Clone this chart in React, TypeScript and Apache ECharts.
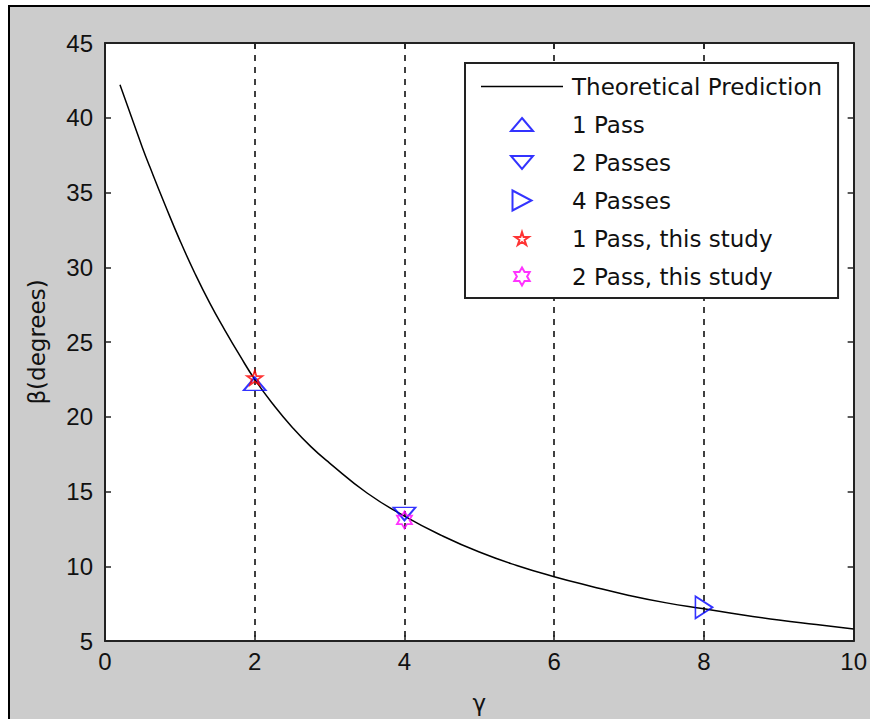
import React, { useEffect, useRef } from "react";
import * as echarts from "echarts";

const gammaValues = [0.2, 0.3, 0.4, 0.5, 0.6, 0.8, 1.0, 1.2, 1.4, 1.6, 1.8, 2.0, 2.25, 2.5, 2.75, 3.0, 3.5, 4.0, 4.5, 5.0, 5.5, 6.0, 6.5, 7.0, 7.5, 8.0, 8.5, 9.0, 9.5, 10.0];
const betaValues = [42.2, 40.8, 39.4, 38.0, 36.7, 34.2, 31.8, 29.6, 27.6, 25.8, 24.1, 22.5, 20.8, 19.3, 18.0, 16.9, 14.9, 13.35, 12.05, 10.95, 10.05, 9.3, 8.65, 8.05, 7.55, 7.15, 6.75, 6.4, 6.1, 5.8];

const onePass = [[2, 22.2]];
const twoPasses = [[4, 13.5]];
const fourPasses = [[8, 7.25]];
const onePassStudy = [[2, 22.6]];
const twoPassStudy = [[4, 13.1]];

const seriesNames = [
  "Theoretical Prediction",
  "1 Pass",
  "2 Passes",
  "4 Passes",
  "1 Pass, this study",
  "2 Pass, this study",
];

// marker shapes
const TRI_UP = "path://M11 0 L22 13 L0 13 Z";
const TRI_DOWN = "path://M0 0 L22 0 L11 13 Z";
const TRI_RIGHT = "path://M0 0 L17 11 L0 22 Z";
const STAR_D =
  "M10 0 L12.245 6.91 L19.51 6.91 L13.63 11.18 L15.88 18.09 L10 13.82 L4.12 18.09 L6.37 11.18 L0.49 6.91 L7.755 6.91 Z";
const HEX_D =
  "M10 0 L12.887 5 L18.66 5 L15.77 10 L18.66 15 L12.887 15 L10 20 L7.113 15 L1.34 15 L4.23 10 L1.34 5 L7.113 5 Z";
const STAR = "path://" + STAR_D;
const HEXAGRAM = "path://" + HEX_D;

// legend icons (padded with empty points so they keep their size in a 20px-high slot)
const LEG_LINE = "path://M0 0 L82 0 L82 1.5 L0 1.5 Z";
const LEG_UP = "path://M11 -3.5 L11 -3.5 M11 0 L22 13 L0 13 Z M11 16.5 L11 16.5";
const LEG_DOWN = "path://M11 -3.5 L11 -3.5 M0 0 L22 0 L11 13 Z M11 16.5 L11 16.5";
const LEG_RIGHT = "path://M0 0 L19 10 L0 20 Z";
const LEG_STAR = "path://M10 -5 L10 -5 " + STAR_D + " M10 23 L10 23";
const LEG_HEX = "path://M10 -1.25 L10 -1.25 " + HEX_D + " M10 21.25 L10 21.25";

export default function App() {
  const ref = useRef<HTMLDivElement>(null);

  useEffect(() => {
    if (!ref.current) return;
    const chart = echarts.init(ref.current, undefined, { renderer: "svg" });
    const tickFont = { fontFamily: "Liberation Sans", fontSize: 24, color: "#111" };
    const axisLine = { show: true, onZero: false, lineStyle: { color: "#222", width: 2 } };
    const axisTick = { show: true, inside: true, length: 6, lineStyle: { color: "#222", width: 1.5 } };
    const hollow = (c: string) => ({ color: "rgba(0,0,0,0)", borderColor: c, borderWidth: 1.8 });

    chart.setOption({
      animation: false,
      backgroundColor: "transparent",
      grid: {
        left: 105,
        top: 43,
        right: 15,
        bottom: 77,
        show: true,
        backgroundColor: "#ffffff",
        borderWidth: 0,
      },
      legend: {
        orient: "vertical",
        left: 465,
        top: 63,
        data: [
          { name: seriesNames[0], icon: LEG_LINE },
          { name: seriesNames[1], icon: LEG_UP },
          { name: seriesNames[2], icon: LEG_DOWN },
          { name: seriesNames[3], icon: LEG_RIGHT },
          { name: seriesNames[4], icon: LEG_STAR },
          { name: seriesNames[5], icon: LEG_HEX },
        ],
        itemWidth: 82,
        itemHeight: 20,
        itemGap: 15,
        padding: [12, 16, 10, 16],
        backgroundColor: "#ffffff",
        borderColor: "#222",
        borderWidth: 2,
        borderRadius: 0,
        selectedMode: false,
        textStyle: {
          fontFamily: "DejaVu Sans",
          fontSize: 23,
          lineHeight: 23,
          color: "#111",
          padding: [0, 0, 0, 4],
        },
      },
      xAxis: [
        {
          type: "value",
          min: 0,
          max: 10,
          interval: 2,
          position: "bottom",
          name: "γ",
          nameLocation: "middle",
          nameGap: 50,
          nameTextStyle: { fontFamily: "DejaVu Sans", fontSize: 23, color: "#111" },
          axisLine,
          axisTick,
          axisLabel: { ...tickFont, margin: 8 },
          splitLine: {
            show: true,
            lineStyle: { color: "#000", width: 1.5, type: [6, 6] },
          },
        },
        {
          type: "value",
          min: 0,
          max: 10,
          interval: 2,
          position: "top",
          axisLine,
          axisTick,
          axisLabel: { show: false },
          splitLine: { show: false },
        },
      ],
      yAxis: [
        {
          type: "value",
          min: 5,
          max: 45,
          interval: 5,
          position: "left",
          name: "β(degrees)",
          nameLocation: "middle",
          nameGap: 57,
          nameTextStyle: { fontFamily: "DejaVu Sans", fontSize: 23, color: "#111" },
          axisLine,
          axisTick,
          axisLabel: { ...tickFont, margin: 12 },
          splitLine: { show: false },
        },
        {
          type: "value",
          min: 5,
          max: 45,
          interval: 5,
          position: "right",
          axisLine,
          axisTick,
          axisLabel: { show: false },
          splitLine: { show: false },
        },
      ],
      series: [
        {
          name: seriesNames[0],
          type: "line",
          data: gammaValues.map((g, i) => [g, betaValues[i]]),
          symbol: "none",
          smooth: true,
          lineStyle: { color: "#000", width: 1.5 },
          itemStyle: { color: "#000" },
          z: 3,
        },
        {
          name: seriesNames[1],
          type: "scatter",
          data: onePass,
          symbol: TRI_UP,
          symbolKeepAspect: false,
          symbolSize: [22, 13],
          itemStyle: hollow("#0000ff"),
          z: 4,
        },
        {
          name: seriesNames[2],
          type: "scatter",
          data: twoPasses,
          symbol: TRI_DOWN,
          symbolKeepAspect: false,
          symbolSize: [22, 13],
          itemStyle: hollow("#0000ff"),
          z: 4,
        },
        {
          name: seriesNames[3],
          type: "scatter",
          data: fourPasses,
          symbol: TRI_RIGHT,
          symbolKeepAspect: false,
          symbolSize: [17, 22],
          itemStyle: hollow("#0000ff"),
          z: 4,
        },
        {
          name: seriesNames[4],
          type: "scatter",
          data: onePassStudy,
          symbol: STAR,
          symbolSize: [15, 14],
          itemStyle: hollow("#ff0000"),
          z: 5,
        },
        {
          name: seriesNames[5],
          type: "scatter",
          data: twoPassStudy,
          symbol: HEXAGRAM,
          symbolSize: [15, 17],
          itemStyle: hollow("#ff00ff"),
          z: 5,
        },
      ],
    });
    return () => chart.dispose();
  }, []);

  return (
    <div style={{ position: "fixed", left: 0, top: 0, width: 870, height: 719, background: "#ffffff", overflow: "hidden" }}>
      <div
        style={{
          position: "absolute",
          left: 8,
          top: 5,
          right: 0,
          bottom: 0,
          background: "#cccccc",
          borderLeft: "2px solid #000",
          borderTop: "2px solid #000",
        }}
      />
      <div ref={ref} style={{ position: "absolute", left: 0, top: 0, width: 870, height: 719 }} />
    </div>
  );
}
